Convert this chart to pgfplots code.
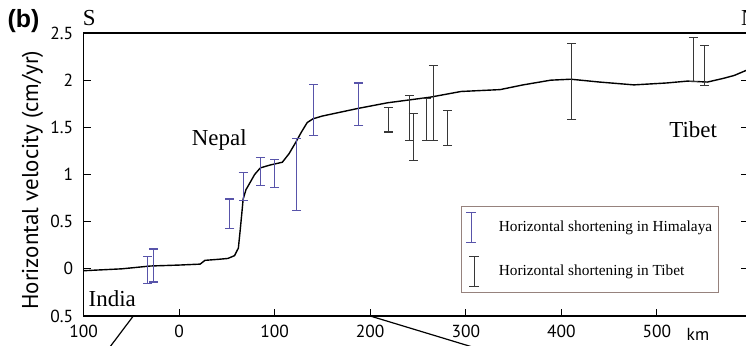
\documentclass[border=0pt]{standalone}
\usepackage{pgfplots}
\pgfplotsset{compat=1.18}
\usepackage{fontspec}
\setmainfont{Liberation Serif}
\setsansfont{PT Sans}
\newfontfamily\boldsans{Liberation Sans}
\definecolor{himblue}{RGB}{88,84,170}
\definecolor{tibgray}{RGB}{55,55,55}
\definecolor{legbox}{RGB}{150,130,125}
\begin{document}
\begin{tikzpicture}
\begin{axis}[
  scale only axis,
  width=664bp, height=283bp,
  xmin=-100, xmax=595, ymin=-0.5, ymax=2.5,
  axis line style={line width=1.3bp, black},
  xtick={-100,0,100,200,300,400,500},
  xticklabels={100,0,100,200,300,400,500},
  ytick={-0.5,0,0.5,1,1.5,2,2.5},
  yticklabels={0.5,0,0.5,1,1.5,2,2.5},
  xtick pos=bottom, ytick pos=both,
  tick align=inside,
  major tick length=7bp,
  every tick/.style={line width=1.2bp, black},
  tick label style={font=\sffamily\fontsize{17.5}{17.5}\selectfont},
  yticklabel style={xshift=-7bp},
  xticklabel style={yshift=-6bp},
  every axis y label/.style={at={(rel axis cs:-0.077,0.48)}, rotate=90, anchor=center},
  ylabel={\sffamily\fontsize{23}{23}\selectfont Horizontal velocity (cm/yr)},
  clip=false,
  legend style={at={(axis cs:295.5,0.668)}, anchor=north west, draw=legbox, line width=0.8bp,
    fill=white, font=\fontsize{15.4}{16}\selectfont, inner xsep=4bp, inner ysep=5.5bp,
    row sep=13bp, cells={anchor=west}},
  legend cell align=left,
]
\addplot[color=black, line width=1.4bp, forget plot] coordinates {
(-100,-0.02) (-60,0.00) (-30,0.03) (0,0.04) (22,0.05) (27,0.09) (40,0.10) (51,0.11)
(58,0.14) (62,0.22) (64,0.42) (66,0.63) (67,0.74) (70,0.84) (74,0.91) (79,1.00)
(85,1.07) (95,1.10) (108,1.13) (115,1.22) (122,1.34) (128,1.45) (134,1.55) (140,1.59)
(150,1.62) (187,1.70) (218,1.76) (263,1.82) (295,1.88) (336,1.90) (360,1.95) (389,2.00)
(410,2.01) (440,1.98) (476,1.95) (510,1.97) (532,1.99) (553,1.98) (570,2.02) (581,2.05) (595,2.11)
};
\addplot[himblue, only marks, mark=*, mark options={draw opacity=0, fill opacity=0},
  error bars/.cd, y dir=both, y explicit, error mark=-,
  error bar style={draw=himblue, line width=1.1bp, solid, draw opacity=1},
  error mark options={draw=himblue, rotate=90, mark size=4.5bp, line width=1.1bp, draw opacity=1},
  /pgfplots/legend image code/.code={\draw[draw=himblue, draw opacity=1, line width=1.1bp] (10bp,-15bp)--(10bp,15bp) (5bp,-15bp)--(15bp,-15bp) (5bp,15bp)--(15bp,15bp); \path (31bp,0bp);}
] coordinates {
(-33,-0.015) +- (0,0.145)
(-27,0.035) +- (0,0.175)
(53,0.585) +- (0,0.155)
(67,0.87) +- (0,0.15)
(85,1.03) +- (0,0.15)
(100,1.01) +- (0,0.15)
(123,1.00) +- (0,0.38)
(141,1.68) +- (0,0.27)
(188,1.745) +- (0,0.225)
};
\addlegendentry{Horizontal shortening in Himalaya}
\addplot[tibgray, only marks, mark=*, mark options={draw opacity=0, fill opacity=0},
  error bars/.cd, y dir=both, y explicit, error mark=-,
  error bar style={draw=tibgray, line width=1.1bp, solid, draw opacity=1},
  error mark options={draw=tibgray, rotate=90, mark size=4.5bp, line width=1.1bp, draw opacity=1},
  /pgfplots/legend image code/.code={\draw[draw=tibgray, draw opacity=1, line width=1.1bp] (13bp,-15bp)--(13bp,15bp) (8bp,-15bp)--(18bp,-15bp) (8bp,15bp)--(18bp,15bp); \path (5bp,0bp) (35bp,0bp);}
] coordinates {
(219,1.58) +- (0,0.13)
(241,1.60) +- (0,0.24)
(245,1.40) +- (0,0.25)
(259,1.585) +- (0,0.225)
(266,1.76) +- (0,0.40)
(281,1.495) +- (0,0.185)
(411,1.985) +- (0,0.405)
(538,2.22) +- (0,0.23)
(550,2.155) +- (0,0.215)
};
\addlegendentry{Horizontal shortening in Tibet}
\node[font=\fontsize{23}{23}\selectfont] at (axis cs:42,1.37) {Nepal};
\node[font=\fontsize{23}{23}\selectfont] at (axis cs:538,1.48) {Tibet};
\node[font=\fontsize{23}{23}\selectfont] at (axis cs:-70,-0.32) {India};
\node[font=\fontsize{23}{23}\selectfont] at (axis cs:-94,2.66) {S};
\node[font=\fontsize{23}{23}\selectfont] at (axis cs:597,2.66) {N};
\node[font=\boldsans\bfseries\fontsize{25}{25}\selectfont] at (axis cs:-163,2.63) {(b)};
\node[font=\sffamily\fontsize{17.5}{17.5}\selectfont] at (axis cs:543,-0.70) {km};
\draw[line width=1.2bp] (axis cs:-48,-0.5) -- (axis cs:-80,-0.93);
\draw[line width=1.2bp] (axis cs:200,-0.5) -- (axis cs:340,-0.93);
\end{axis}
\pgfresetboundingbox
\path[use as bounding box] (current axis.south west) ++(-83.6bp,-30bp) rectangle ++(746bp,346bp);
\end{tikzpicture}
\end{document}
